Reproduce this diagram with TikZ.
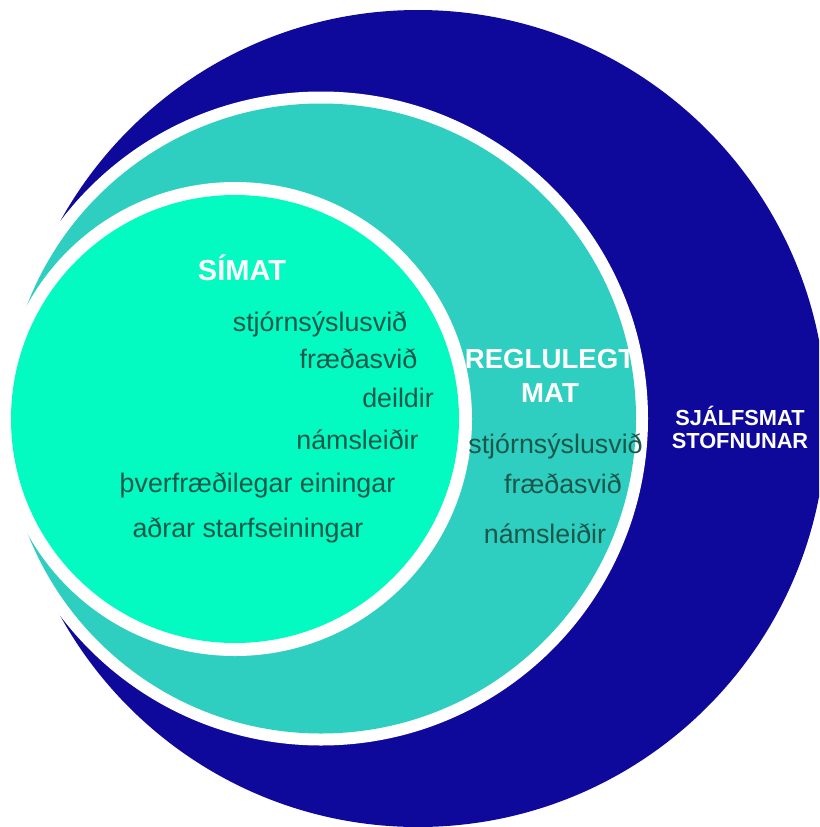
\documentclass[tikz,border=0pt]{standalone}
\usepackage{fontspec}
\setmainfont{Liberation Sans}
\definecolor{outerblue}{RGB}{14,9,155}
\definecolor{midteal}{RGB}{46,207,192}
\definecolor{innermint}{RGB}{3,250,192}
\definecolor{itemtxt}{RGB}{27,88,75}
\tikzset{
  item/.style={anchor=base, inner sep=0pt, text=itemtxt, font=\fontsize{26.8}{30}\selectfont},
  head/.style={anchor=base, inner sep=0pt, text=white, font=\bfseries\fontsize{27.6}{30}\selectfont},
  outerhead/.style={anchor=base, inner sep=0pt, text=white, font=\bfseries\fontsize{21.8}{23}\selectfont},
}
\begin{document}
\begin{tikzpicture}[x=1pt,y=-1pt]
\useasboundingbox (0,0) rectangle (819,827);
\clip (0,0) rectangle (819,827);
% outer circle
\fill[outerblue] (418,418.5) circle (408.5pt);
% middle circle with white ring
\fill[white] (321,418.5) circle (327pt);
\fill[midteal] (321,418.5) circle (315pt);
% inner circle with white ring
\fill[white] (235,419) circle (237pt);
\fill[innermint] (235,419) circle (224pt);
% inner labels
\node[head, font=\bfseries\fontsize{29}{30}\selectfont] (simat) at (242,280) {SÍMAT};
\node[item] (s1) at (320,331) {stjórnsýslusvið};
\node[item] (s2) at (358.5,368) {fræðasvið};
\node[item] (s3) at (398,407) {deildir};
\node[item] (s4) at (357.5,449) {námsleiðir};
\node[item] (s5) at (257.5,492) {þverfræðilegar einingar};
\node[item] (s6) at (248,537) {aðrar starfseiningar};
% middle labels
\node[head] (reg1) at (550,368) {REGLULEGT};
\node[head] (reg2) at (550,402) {MAT};
\node[item] (r1) at (555.5,453) {stjórnsýslusvið};
\node[item] (r2) at (563,493) {fræðasvið};
\node[item] (r3) at (545,543) {námsleiðir};
% outer labels
\node[outerhead] (sj1) at (740,425) {SJÁLFSMAT};
\node[outerhead] (sj2) at (740,448) {STOFNUNAR};
\end{tikzpicture}
\end{document}
